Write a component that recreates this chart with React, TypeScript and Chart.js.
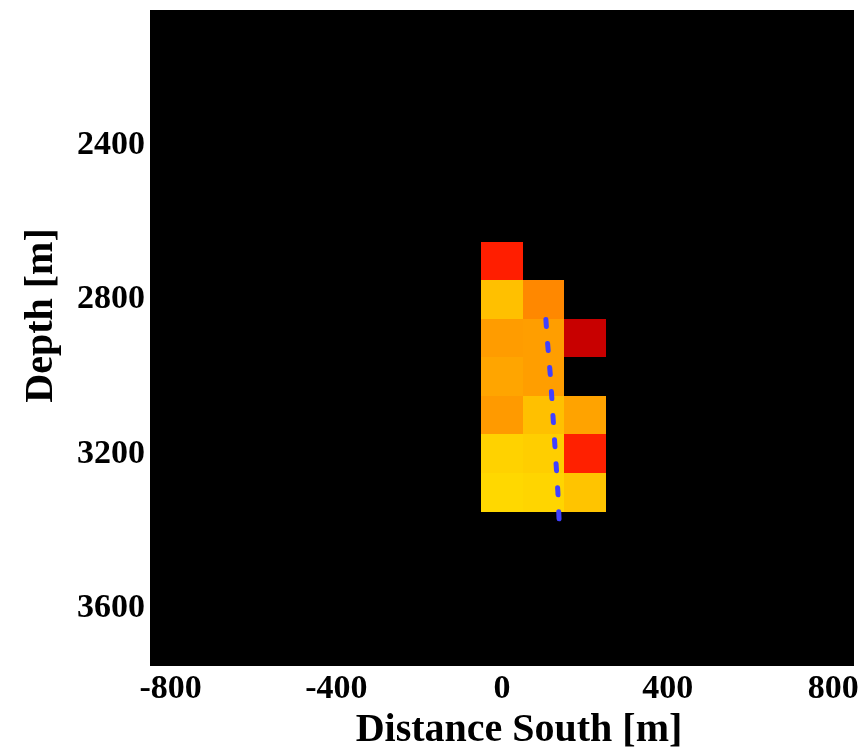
import React, { useEffect, useRef } from "react";
import { Chart, registerables } from "chart.js";

Chart.register(...registerables);

// ---- data ----
const xTicks = [-800, -400, 0, 400, 800];
const yTicks = [2400, 2800, 3200, 3600];
const xRange = [-850, 850];
const yRange = [2050, 3750];
const cellSize = 100;
const cellX = [0, 100, 200];
const cellY = [2700, 2800, 2900, 3000, 3100, 3200, 3300];
// normalized intensity (0..1), null = empty cell
const cellValues: (number | null)[][] = [
  [0.41, null, null],
  [0.652, 0.568, null],
  [0.598, 0.601, 0.283],
  [0.612, 0.601, null],
  [0.595, 0.652, 0.609],
  [0.679, 0.673, 0.413],
  [0.688, 0.684, 0.658],
];
const wellDist = [106, 109, 117, 123, 129, 135, 138];
const wellDepth = [2852, 2900, 3000, 3100, 3200, 3300, 3375];
const xTitle = "Distance South [m]";
const yTitle = "Depth [m]";

// matplotlib "hot" colormap
function hot(v: number): string {
  const c = Math.max(0, Math.min(1, v));
  const r = c < 0.365079 ? 0.0416 + (c / 0.365079) * (1 - 0.0416) : 1;
  const g = c < 0.365079 ? 0 : c < 0.746032 ? (c - 0.365079) / (0.746032 - 0.365079) : 1;
  const b = c < 0.746032 ? 0 : (c - 0.746032) / (1 - 0.746032);
  return `rgb(${Math.round(r * 255)},${Math.round(g * 255)},${Math.round(b * 255)})`;
}

const FONT = "'Liberation Serif', 'Times New Roman', serif";

const heatPlugin = {
  id: "heatmap",
  beforeDatasetsDraw(chart: any) {
    const { ctx, chartArea, scales } = chart;
    const { left, top, right, bottom } = chartArea;
    const xs = scales.x;
    const ys = scales.y;
    ctx.save();
    ctx.fillStyle = "#000000";
    ctx.fillRect(left, top, right - left, bottom - top);
    cellY.forEach((yc, i) => {
      cellX.forEach((xc, j) => {
        const v = cellValues[i][j];
        if (v === null || v === undefined) return;
        const x0 = Math.round(xs.getPixelForValue(xc - cellSize / 2));
        const x1 = Math.round(xs.getPixelForValue(xc + cellSize / 2));
        const y0 = Math.round(ys.getPixelForValue(yc - cellSize / 2));
        const y1 = Math.round(ys.getPixelForValue(yc + cellSize / 2));
        ctx.fillStyle = hot(v);
        ctx.fillRect(Math.min(x0, x1), Math.min(y0, y1), Math.abs(x1 - x0), Math.abs(y1 - y0));
      });
    });
    ctx.restore();
  },
};

const titlePlugin = {
  id: "axisTitles",
  afterDraw(chart: any) {
    const { ctx, chartArea } = chart;
    const { left, top, right, bottom } = chartArea;
    ctx.save();
    ctx.fillStyle = "#000";
    ctx.font = `bold 40px ${FONT}`;
    ctx.textAlign = "center";
    ctx.textBaseline = "alphabetic";
    ctx.fillText(xTitle, (left + right) / 2 + 17, bottom + 74.5);
    ctx.translate(left - 98, (top + bottom) / 2 - 22.5);
    ctx.rotate(-Math.PI / 2);
    ctx.fillText(yTitle, 0, 0);
    ctx.restore();
  },
};

export default function App() {
  const ref = useRef<HTMLCanvasElement | null>(null);
  useEffect(() => {
    if (!ref.current) return;
    const zeroPad = (s: any) => {
      s.paddingTop = 0;
      s.paddingBottom = 0;
      s.paddingLeft = 0;
      s.paddingRight = 0;
    };
    const chart = new Chart(ref.current, {
      type: "scatter",
      data: {
        datasets: [
          {
            type: "line",
            data: wellDist.map((d, i) => ({ x: d, y: wellDepth[i] })),
            borderColor: "rgb(64,64,255)",
            borderWidth: 5,
            borderDash: [7, 17.1],
            borderCapStyle: "round",
            pointRadius: 0,
            tension: 0,
            fill: false,
          } as any,
        ],
      },
      options: {
        animation: false,
        responsive: false,
        devicePixelRatio: 1,
        layout: { padding: { left: 0, top: 10, right: 8, bottom: 0 } },
        plugins: { legend: { display: false }, tooltip: { enabled: false } },
        scales: {
          x: {
            type: "linear",
            min: xRange[0],
            max: xRange[1],
            afterBuildTicks: (s: any) => {
              s.ticks = xTicks.map((v) => ({ value: v }));
            },
            afterFit: (s: any) => {
              s.height = 82;
              zeroPad(s);
            },
            grid: { display: false, drawTicks: false },
            border: { display: false },
            ticks: {
              color: "#000",
              padding: 3,
              maxRotation: 0,
              autoSkip: false,
              callback: (v: any) => String(v),
              font: { family: FONT, size: 34, weight: "bold" },
            },
            title: { display: false },
          },
          y: {
            type: "linear",
            reverse: true,
            min: yRange[0],
            max: yRange[1],
            afterBuildTicks: (s: any) => {
              s.ticks = yTicks.map((v) => ({ value: v }));
            },
            afterFit: (s: any) => {
              s.width = 150;
              zeroPad(s);
            },
            grid: { display: false, drawTicks: false },
            border: { display: false },
            ticks: {
              color: "#000",
              padding: 5,
              autoSkip: false,
              callback: (v: any) => String(v),
              font: { family: FONT, size: 34, weight: "bold" },
            },
            title: { display: false },
          },
        },
      } as any,
      plugins: [heatPlugin, titlePlugin],
    });
    return () => chart.destroy();
  }, []);
  return (
    <div style={{ position: "fixed", left: 0, top: 0, width: 862, height: 748, background: "#fff" }}>
      <canvas ref={ref} width={862} height={748} style={{ display: "block", width: 862, height: 748 }} />
    </div>
  );
}
